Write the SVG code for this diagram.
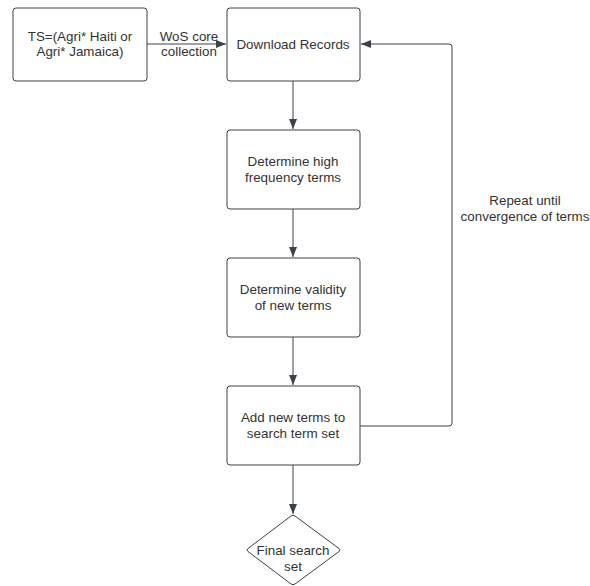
<svg xmlns="http://www.w3.org/2000/svg" width="590" height="586" viewBox="0 0 590 586">
<style>
.box{fill:#fff;stroke:#3a414a;stroke-width:1}
.line{fill:none;stroke:#3a414a;stroke-width:1}
text{font-family:"Liberation Sans",Arial,sans-serif;font-size:13.4px;fill:#333;text-anchor:middle}
</style>
<defs>
<marker id="arr" viewBox="0 0 10 10" refX="10" refY="5" markerWidth="10" markerHeight="10" markerUnits="userSpaceOnUse" orient="auto">
<path d="M0,1 L10,5 L0,9 z" fill="#3a414a"/>
</marker>
</defs>
<rect width="590" height="586" fill="#fff"/>
<g id="connectors">
<path class="line" d="M147,44 H226" marker-end="url(#arr)"/>
<path class="line" d="M293,81 V129" marker-end="url(#arr)"/>
<path class="line" d="M293,209 V257" marker-end="url(#arr)"/>
<path class="line" d="M293,337 V385" marker-end="url(#arr)"/>
<path class="line" d="M293,465 V514" marker-end="url(#arr)"/>
<path class="line" d="M360,426 H449 Q452,426 452,423 V47 Q452,44 449,44 H361" marker-end="url(#arr)"/>
<text x="189" y="41">WoS core</text>
<text x="189" y="56">collection</text>
<text x="525" y="205">Repeat until</text>
<text x="525" y="221">convergence of terms</text>
</g>
<g id="ts">
<rect class="box" x="13" y="8" width="134" height="73" rx="3"/>
<text x="80" y="41">TS=(Agri* Haiti or</text>
<text x="80" y="56">Agri* Jamaica)</text>
</g>
<g id="download">
<rect class="box" x="227" y="8" width="133" height="73" rx="3"/>
<text x="293" y="49">Download Records</text>
</g>
<g id="frequency">
<rect class="box" x="227" y="130" width="133" height="79" rx="3"/>
<text x="293" y="166">Determine high</text>
<text x="293" y="182">frequency terms</text>
</g>
<g id="validity">
<rect class="box" x="227" y="258" width="133" height="79" rx="3"/>
<text x="293" y="294">Determine validity</text>
<text x="293" y="310">of new terms</text>
</g>
<g id="add">
<rect class="box" x="227" y="386" width="133" height="79" rx="3"/>
<text x="293" y="422">Add new terms to</text>
<text x="293" y="438">search term set</text>
</g>
<g id="final">
<path class="box" stroke-linejoin="round" d="M291,516 Q293,514.5 295,516 L339,548.5 Q341,550 339,551.5 L295,584 Q293,585.5 291,584 L248,551.5 Q246,550 248,548.5 Z"/>
<text x="293" y="555">Final search</text>
<text x="293" y="571">set</text>
</g>
</svg>
